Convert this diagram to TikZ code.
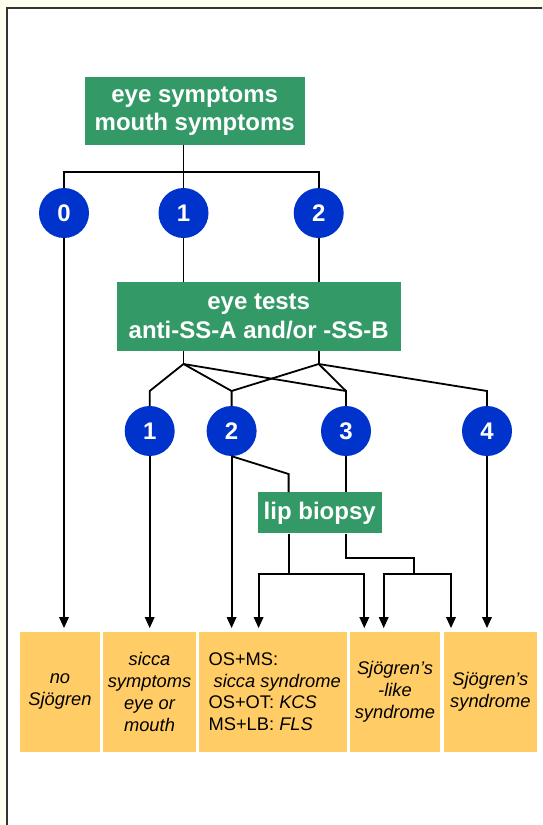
\documentclass[tikz,border=0pt]{standalone}
\usepackage{fontspec}
\setmainfont{Liberation Sans}
\usetikzlibrary{arrows.meta}
\definecolor{bgcream}{RGB}{255,255,240}
\definecolor{gbox}{RGB}{51,153,102}
\definecolor{bcirc}{RGB}{0,51,204}
\definecolor{obox}{RGB}{255,204,102}
\definecolor{frameline}{RGB}{51,51,51}
\begin{document}
\begin{tikzpicture}[x=1pt,y=-1pt,
  gboxs/.style={fill=gbox, text=white, font=\fontsize{24}{28.3}\selectfont\bfseries, align=center, inner sep=0pt},
  circ/.style={circle, fill=bcirc, minimum size=50pt, inner sep=0pt, text=white, font=\fontsize{24}{28}\selectfont\bfseries},
  oboxs/.style={fill=obox, minimum height=120pt, inner sep=0pt, font=\fontsize{18.3}{21.9}\selectfont\itshape, align=center},
  conn/.style={line width=1.8pt, black},
  arr/.style={conn, -{Triangle[length=11pt,width=9.5pt]}, shorten >=3.4pt},
]
\useasboundingbox (0,0) rectangle (542,825);
\fill[bgcream] (0,0) rectangle (542,825);
\begin{scope}
  \clip (0,0) rectangle (542,825);
  \draw[line width=2pt, draw=frameline, fill=white] (7,8) rectangle (600,900);
\end{scope}

% green boxes
\node[gboxs, minimum width=219.5pt, minimum height=67.7pt] (top) at (194.75,110.9) {eye symptoms\\mouth symptoms};
\node[gboxs, minimum width=283.8pt, minimum height=68.7pt] (eye) at (258.7,316.35) {eye tests\\anti-SS-A and/or -SS-B};
\node[gboxs, minimum width=123.7pt, minimum height=41pt] (lip) at (319.75,512.8) {lip biopsy};

% circles row 1
\node[circ] (c0) at (64,213) {0};
\node[circ] (c1) at (183.5,213) {1};
\node[circ] (c2) at (318.7,213) {2};
% circles row 2
\node[circ] (d1) at (149.7,431) {1};
\node[circ] (d2) at (231.6,431) {2};
\node[circ] (d3) at (346,431) {3};
\node[circ] (d4) at (487,431) {4};

% orange boxes
\node[oboxs, minimum width=80pt] (b1) at (60,691.7) {no\\Sjögren};
\node[oboxs, minimum width=93pt] (b2) at (149.5,691.7) {sicca\\symptoms\\eye or\\mouth};
\node[oboxs, minimum width=148pt] (b3) at (273,691.7) {};
\node[anchor=west, align=left, inner sep=0pt, font=\fontsize{18.3}{21.9}\selectfont] (b3t) at (208.4,691.7)
  {OS+MS:\\\hspace*{5pt}\textit{sicca syndrome}\\OS+OT: \textit{KCS}\\MS+LB: \textit{FLS}};
\node[oboxs, minimum width=90pt] (b4) at (395,691.7) {Sjögren’s\\-like\\syndrome};
\node[oboxs, minimum width=93.2pt] (b5) at (490.4,691.7) {Sjögren’s\\syndrome};

% coordinates
\coordinate (j1) at (183.5,172);
\coordinate (j2) at (183.5,364);
\coordinate (j3) at (318.7,364);
\coordinate (k1) at (149.7,391);
\coordinate (k2) at (231.6,391);
\coordinate (k3) at (346,391);
\coordinate (k4) at (487,391);
\coordinate (m1) at (288.6,474);
\coordinate (j4) at (288.6,574.3);
\coordinate (l4) at (258.6,574.3);
\coordinate (r4) at (364.3,574.3);
\coordinate (n1) at (346,558.3);
\coordinate (j5) at (414,558.3);
\coordinate (j6) at (414,574.3);
\coordinate (l5) at (383.7,574.3);
\coordinate (r5) at (451,574.3);

% top connectors
\draw[conn] (j1 |- top.south) -- (j1);
\draw[conn] (c0.north) |- (j1) -| (c2.north);
\draw[conn] (j1) -- (c1.north);
\draw[arr] (c0.south) -- (c0.south |- b1.north);
\draw[conn] (c1.south) -- (c1.south |- eye.north);
\draw[conn] (c2.south) -- (c2.south |- eye.north);

% eye tests connectors
\draw[conn] (j2 |- eye.south) -- (j2);
\draw[conn] (j3 |- eye.south) -- (j3);
\draw[conn] (j2) -- (k1) -- (d1.north);
\draw[conn] (j2) -- (k2) -- (d2.north);
\draw[conn] (j2) -- (k3) -- (d3.north);
\draw[conn] (j3) -- (k2);
\draw[conn] (j3) -- (k3);
\draw[conn] (j3) -- (k4) -- (d4.north);

% row 2 connectors
\draw[arr] (d1.south) -- (d1.south |- b2.north);
\draw[arr] (d2.south) -- (d2.south |- b3.north);
\draw[conn] (d2.south) -- (m1) -- (m1 |- lip.north);
\draw[conn] (d3.south) -- (d3.south |- lip.north);
\draw[arr] (d4.south) -- (d4.south |- b5.north);

% lip biopsy connectors
\draw[conn] (j4 |- lip.south) -- (j4);
\draw[arr] (j4) -- (l4) -- (l4 |- b3.north);
\draw[arr] (j4) -- (r4) -- (r4 |- b4.north);
\draw[conn] (n1 |- lip.south) -- (n1) -- (j5) -- (j6);
\draw[arr] (j6) -- (l5) -- (l5 |- b4.north);
\draw[arr] (j6) -- (r5) -- (r5 |- b5.north);
\end{tikzpicture}
\end{document}
